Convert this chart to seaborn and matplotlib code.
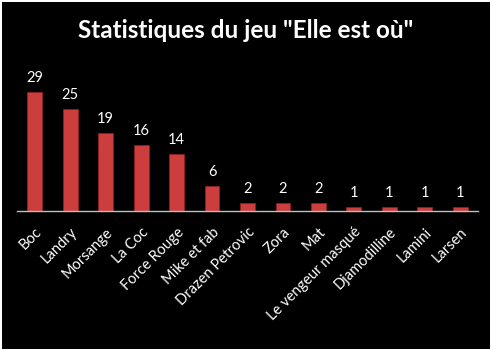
import matplotlib
matplotlib.use("Agg")
import matplotlib.pyplot as plt
import seaborn as sns
import pandas as pd

categories = ["Boc", "Landry", "Morsange", "La Coc", "Force Rouge", "Mike et fab",
              "Drazen Petrovic", "Zora", "Mat", "Le vengeur masqué", "Djamodilline",
              "Lamini", "Larsen"]
values = [29, 25, 19, 16, 14, 6, 2, 2, 2, 1, 1, 1, 1]
title = 'Statistiques du jeu "Elle est où"'

sns.set_style("dark")
plt.rcParams['font.family'] = ['Lato', 'DejaVu Sans']

df = pd.DataFrame({"joueur": categories, "parties": values})

fig = plt.figure(figsize=(4.91, 3.5), dpi=100, facecolor="black",
                 edgecolor="white", linewidth=2)
ax = fig.add_axes([17/491, 139/350, 461/491, 143.5/350])
ax.set_facecolor("black")

sns.barplot(data=df, x="joueur", y="parties", order=categories, color="#CC3D3D",
            width=0.42, saturation=1, ax=ax, edgecolor="#8E2020", linewidth=0.6)

ax.set_ylim(0, 35)
ax.set_xlim(-0.5, len(categories) - 0.5)
for c in ax.containers:
    ax.bar_label(c, labels=[str(v) for v in values], color="white", fontsize=10.5, padding=5)

ax.set_xlabel("")
ax.set_ylabel("")
ax.set_yticks([])
ax.grid(False)
for s in ["top", "right", "left"]:
    ax.spines[s].set_visible(False)
ax.spines["bottom"].set_visible(True)
ax.spines["bottom"].set_color("#BFBFBF")
ax.spines["bottom"].set_linewidth(1)
ax.tick_params(axis="x", length=0, pad=10, colors="white")
plt.setp(ax.get_xticklabels(), rotation=45, ha="right", rotation_mode="anchor",
         fontsize=10.5, color="white")

fig.text(0.5, 1 - 31/350, title, ha="center", va="center", color="white",
         fontsize=17.5, fontweight="bold")

fig.savefig("out.png", dpi=100, facecolor="black", edgecolor="white")
